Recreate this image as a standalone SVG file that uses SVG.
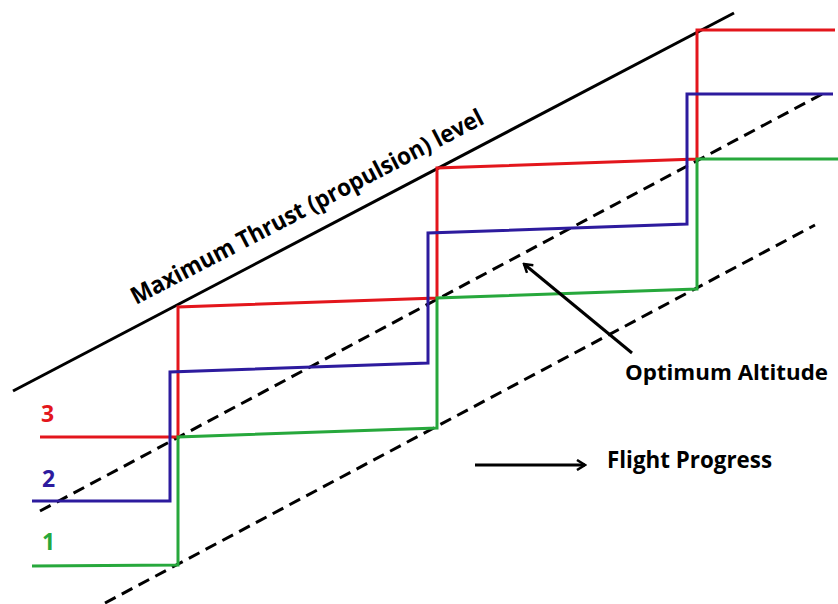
<svg xmlns="http://www.w3.org/2000/svg" width="838" height="604" viewBox="0 0 838 604">
  <defs>
    <style>
      .lbl { font-family: "Open Sans", "Liberation Sans", sans-serif; font-weight: bold; }
      .step { fill: none; stroke-width: 3; stroke-linejoin: miter; }
      .red { stroke: #e3161c; }
      .blue { stroke: #2d1b9e; }
      .green { stroke: #27a83c; }
      .dash { fill: none; stroke: #000; stroke-width: 3; stroke-dasharray: 12 7; }
      .arr { fill: none; stroke: #000; stroke-width: 3; }
    </style>
    <marker id="head" viewBox="0 0 12 12" refX="10" refY="6" markerWidth="12" markerHeight="12" markerUnits="userSpaceOnUse" orient="auto">
      <path d="M2,1 L10,6 L2,11" fill="none" stroke="#000" stroke-width="2.5"/>
    </marker>
  </defs>
  <rect width="838" height="604" fill="#fff"/>

  <g id="guides">
    <line id="max-thrust-line" x1="13" y1="391" x2="734" y2="13" stroke="#000" stroke-width="3"/>
    <line id="optimum-upper" class="dash" x1="40" y1="511" x2="826" y2="92"/>
    <line id="optimum-lower" class="dash" x1="105" y1="603" x2="815" y2="225"/>
  </g>

  <g id="profiles">
    <polyline id="profile-3" class="step red" points="40,437 178,437 178,307 437,298 437,168 697,159 697,30 835,30"/>
    <polyline id="profile-2" class="step blue" points="32,501 170,501 170,372 428,363 428,233 687,224 687,94 833,94"/>
    <polyline id="profile-1" class="step green" points="32,566 178,565 178,437 437,428 437,298 697,289 697,159 838,159"/>
  </g>

  <g id="connectors">
    <line id="arrow-optimum" class="arr" x1="632" y1="353" x2="524" y2="264" marker-end="url(#head)"/>
    <line id="arrow-progress" class="arr" x1="475" y1="465" x2="585" y2="465" marker-end="url(#head)"/>
  </g>

  <g id="label-max-thrust">
    <text class="lbl" x="0" y="0" font-size="24" fill="#000" textLength="394" lengthAdjust="spacingAndGlyphs" transform="translate(136,305) rotate(-27.5)">Maximum Thrust (propulsion) level</text>
  </g>
  <g id="label-optimum">
    <text class="lbl" x="625" y="380" font-size="22" fill="#000" textLength="203" lengthAdjust="spacingAndGlyphs">Optimum Altitude</text>
  </g>
  <g id="label-progress">
    <text class="lbl" x="607" y="468" font-size="23" fill="#000" textLength="165" lengthAdjust="spacingAndGlyphs">Flight Progress</text>
  </g>
  <g id="label-3"><text class="lbl" x="41" y="422" font-size="23" fill="#e3161c">3</text></g>
  <g id="label-2"><text class="lbl" x="42" y="487" font-size="23" fill="#2d1b9e">2</text></g>
  <g id="label-1"><text class="lbl" x="42" y="550" font-size="23" fill="#27a83c">1</text></g>
</svg>
